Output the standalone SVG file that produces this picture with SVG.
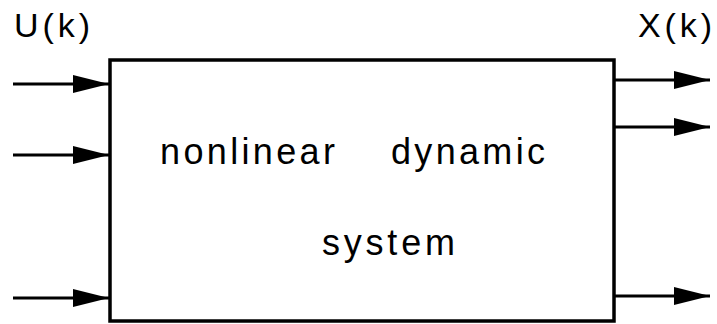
<svg xmlns="http://www.w3.org/2000/svg" width="717" height="324" viewBox="0 0 717 324">
<style>
.t{font-family:"Liberation Sans",Arial,sans-serif;font-size:36px;fill:#000}
.lb{font-size:34px}
.ln{stroke:#000;stroke-width:3;fill:none}
.box{stroke:#000;stroke-width:3.5;fill:#fff}
</style>
<defs>
<marker id="ah" markerUnits="userSpaceOnUse" markerWidth="36" markerHeight="20" refX="36" refY="10" orient="auto">
<path d="M0,1 L36,10 L0,19 Z" fill="#000"/>
</marker>
</defs>
<rect width="717" height="324" fill="#fff"/>
<g id="system">
<rect class="box" x="110" y="60" width="504" height="261"/>
<text class="t" x="160" y="164" textLength="175" lengthAdjust="spacing">nonlinear</text>
<text class="t" x="391" y="164" textLength="154" lengthAdjust="spacing">dynamic</text>
<text class="t" x="322" y="255" textLength="133" lengthAdjust="spacing">system</text>
</g>
<g id="labels">
<text class="t lb" x="14" y="37" textLength="76" lengthAdjust="spacing">U(k)</text>
<text class="t lb" x="638" y="37" textLength="74" lengthAdjust="spacing">X(k)</text>
</g>
<g id="connectors">
<line class="ln" x1="13" y1="84" x2="109" y2="84" marker-end="url(#ah)"/>
<line class="ln" x1="13" y1="155" x2="109" y2="155" marker-end="url(#ah)"/>
<line class="ln" x1="13" y1="298" x2="109" y2="298" marker-end="url(#ah)"/>
<line class="ln" x1="614" y1="80" x2="710" y2="80" marker-end="url(#ah)"/>
<line class="ln" x1="614" y1="127" x2="710" y2="127" marker-end="url(#ah)"/>
<line class="ln" x1="614" y1="296" x2="710" y2="296" marker-end="url(#ah)"/>
</g>
</svg>
